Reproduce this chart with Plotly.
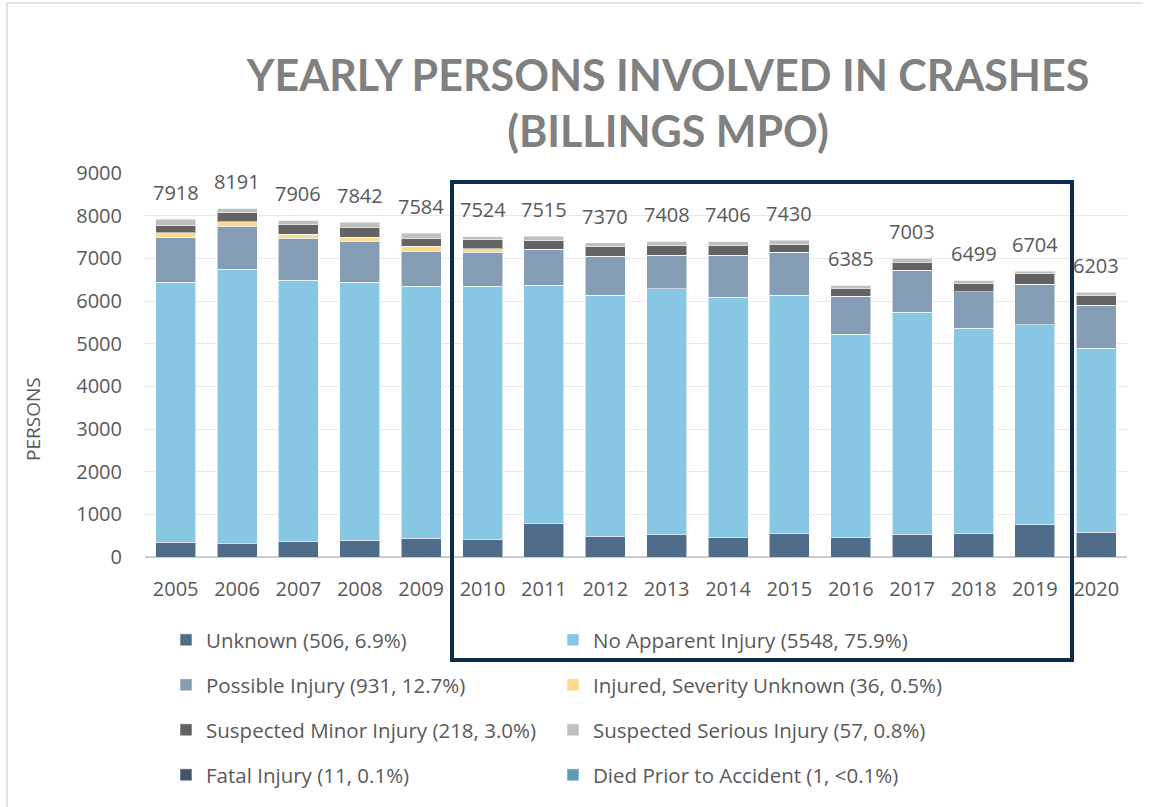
import plotly.graph_objects as go

years = ["2005", "2006", "2007", "2008", "2009", "2010", "2011", "2012",
         "2013", "2014", "2015", "2016", "2017", "2018", "2019", "2020"]

unknown = [345, 305, 368, 392, 439, 415, 791, 486, 516, 446, 540, 462, 532, 556, 751, 580]
no_apparent = [6093, 6445, 6124, 6046, 5912, 5936, 5584, 5654, 5772, 5647, 5600, 4764, 5210, 4811, 4693, 4318]
possible = [1045, 1007, 984, 968, 820, 797, 843, 914, 783, 985, 1008, 891, 977, 851, 954, 1001]
sev_unknown = [117, 101, 94, 94, 118, 78, 0, 0, 0, 0, 0, 0, 0, 0, 0, 0]
minor = [181, 211, 234, 227, 187, 220, 195, 218, 225, 234, 187, 180, 195, 188, 235, 226]
serious = [125, 109, 91, 103, 98, 67, 89, 88, 100, 83, 82, 78, 75, 82, 56, 66]
fatal = [11, 12, 10, 11, 9, 10, 12, 9, 11, 10, 12, 9, 13, 10, 14, 11]
died_prior = [1, 1, 1, 1, 1, 1, 1, 1, 1, 1, 1, 1, 1, 1, 1, 1]
totals = [7918, 8191, 7906, 7842, 7584, 7524, 7515, 7370, 7408, 7406, 7430, 6385, 7003, 6499, 6704, 6203]

series_names = [
    "Unknown (506, 6.9%)",
    "No Apparent Injury (5548, 75.9%)",
    "Possible Injury (931, 12.7%)",
    "Injured, Severity Unknown (36, 0.5%)",
    "Suspected Minor Injury (218, 3.0%)",
    "Suspected Serious Injury (57, 0.8%)",
    "Fatal Injury (11, 0.1%)",
    "Died Prior to Accident (1, <0.1%)",
]
series_values = [unknown, no_apparent, possible, sev_unknown, minor, serious, fatal, died_prior]
series_colors = ["#4f6c8a", "#87c7e4", "#849db4", "#fdd98b", "#636363", "#bfbfbf", "#44546a", "#5e9cb8"]

# plot area geometry (px) used for paper-coordinate placement
L, R, T, B = 145, 24, 173, 250
W, H = 1151, 807
pw = W - L - R
ph = H - T - B

def px_x(x):
    return (x - L) / pw

def px_y(y):
    return (H - B - y) / ph

fig = go.Figure()

legend_pos = [(166, 640), (553, 640), (166, 685), (553, 685),
              (166, 730), (553, 730), (166, 775), (553, 775)]

layout_legends = {}
for i, (name, vals, col) in enumerate(zip(series_names, series_values, series_colors)):
    lname = f"legend{i+2}"
    fig.add_trace(go.Bar(
        x=years, y=vals, name=name,
        marker=dict(color=col, line=dict(color="rgba(255,255,255,0.55)", width=1)),
        legend=lname, showlegend=True,
        hoverinfo="skip",
    ))
    lx, ly = legend_pos[i]
    layout_legends[lname] = dict(
        x=px_x(lx), y=px_y(ly), xanchor="left", yanchor="middle",
        bgcolor="rgba(0,0,0,0)", font=dict(family="Open Sans", size=20.5, color="#595959"),
        itemwidth=30,
    )

for i, tot in enumerate(totals):
    fig.add_annotation(x=i, y=tot, text=str(tot), showarrow=False,
                       xref="x", yref="y",
                       yanchor="bottom", yshift=11,
                       font=dict(family="Open Sans", size=20, color="#595959"))

fig.add_annotation(xref="paper", yref="paper", x=px_x(33), y=px_y(419),
                   xanchor="center", yanchor="middle",
                   text="PERSONS", showarrow=False, textangle=-90,
                   font=dict(family="Open Sans", size=19, color="#595959"))

# highlight box (2010-2019)
fig.add_shape(type="rect", xref="paper", yref="paper",
              x0=px_x(452), x1=px_x(1072), y0=px_y(660), y1=px_y(182),
              line=dict(color="#0d2b4d", width=4), fillcolor="rgba(0,0,0,0)")
# outer chart border (left and top)
fig.add_shape(type="line", xref="paper", yref="paper",
              x0=px_x(7), x1=px_x(7), y0=px_y(3), y1=px_y(807),
              line=dict(color="#d9d9d9", width=1.5))
fig.add_shape(type="line", xref="paper", yref="paper",
              x0=px_x(7), x1=px_x(1143), y0=px_y(3), y1=px_y(3),
              line=dict(color="#d9d9d9", width=1.5))

fig.update_layout(
    width=W, height=H,
    barmode="stack", bargap=0.35,
    paper_bgcolor="white", plot_bgcolor="white",
    margin=dict(l=L, r=R, t=T, b=B),
    showlegend=True,
    title=dict(text="<b>YEARLY PERSONS INVOLVED IN CRASHES<br>(BILLINGS MPO)</b>",
               x=668 / W, xanchor="center", y=1 - 91 / H, yanchor="top",
               font=dict(family="Lato", size=43, color="#808080")),
    font=dict(family="Open Sans", color="#595959"),
    xaxis=dict(type="category", range=[-0.5, len(years) - 0.5], autorange=False,
               showgrid=False, showline=False, ticks="", ticklabelstandoff=18,
               tickfont=dict(family="Open Sans", size=20, color="#595959")),
    yaxis=dict(range=[0, 9000], dtick=1000, showgrid=True, gridcolor="#e8e8e8", gridwidth=1,
               zeroline=True, zerolinecolor="#cccccc", zerolinewidth=2,
               showline=False, ticks="", ticklabelstandoff=22,
               tickfont=dict(family="Open Sans", size=20, color="#595959")),
    **layout_legends,
)

fig.write_html("out.html", config={"displayModeBar": False},
               post_script="document.body.style.margin='0';")
